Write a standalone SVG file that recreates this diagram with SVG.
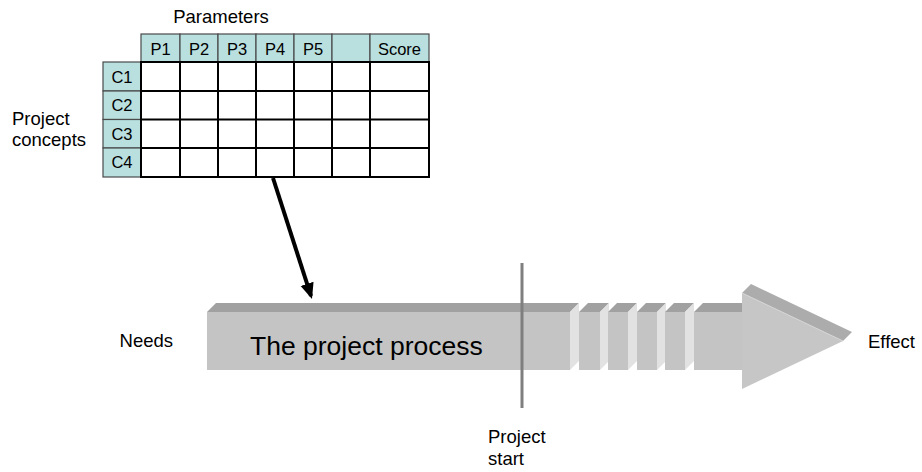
<svg xmlns="http://www.w3.org/2000/svg" width="922" height="472" viewBox="0 0 922 472">
  <style>
    .lbl { font-family: "Liberation Sans", Arial, sans-serif; font-size: 18.5px; fill: #000; }
    .cell { font-family: "Liberation Sans", Arial, sans-serif; font-size: 16.5px; fill: #000; text-anchor: middle; }
    .hdr { fill: #b9dfdf; stroke: #4a4a4a; stroke-width: 1.2; }
    .grid { fill: #fff; stroke: #000; stroke-width: 2; }
    .front { fill: #c4c4c4; }
    .top { fill: #a1a1a1; }
    .side { fill: #e2e2e2; }
  </style>
  <defs>
    <marker id="arrowhead" markerWidth="4" markerHeight="4" refX="3.2" refY="2" orient="auto" markerUnits="strokeWidth">
      <path d="M0,0.3 L4,2 L0,3.7 z" fill="#000"/>
    </marker>
  </defs>
  <rect width="922" height="472" fill="#fff"/>

  <!-- concept / parameter matrix -->
  <g id="matrix">
    <text class="lbl" x="221" y="23" text-anchor="middle">Parameters</text>
    <text class="lbl" x="12" y="125">Project</text>
    <text class="lbl" x="12" y="146">concepts</text>

    <!-- header row -->
    <rect class="hdr" x="141" y="34" width="39" height="28"/>
    <rect class="hdr" x="180" y="34" width="38" height="28"/>
    <rect class="hdr" x="218" y="34" width="38" height="28"/>
    <rect class="hdr" x="256" y="34" width="38" height="28"/>
    <rect class="hdr" x="294" y="34" width="38" height="28"/>
    <rect class="hdr" x="332" y="34" width="38" height="28"/>
    <rect class="hdr" x="370" y="34" width="59" height="28"/>
    <text class="cell" x="160.5" y="54.5">P1</text>
    <text class="cell" x="199" y="54.5">P2</text>
    <text class="cell" x="237" y="54.5">P3</text>
    <text class="cell" x="275" y="54.5">P4</text>
    <text class="cell" x="313" y="54.5">P5</text>
    <text class="cell" x="399.5" y="54.5">Score</text>

    <!-- row labels -->
    <rect class="hdr" x="103" y="62" width="38" height="29"/>
    <rect class="hdr" x="103" y="91" width="38" height="28.5"/>
    <rect class="hdr" x="103" y="119.5" width="38" height="28.5"/>
    <rect class="hdr" x="103" y="148" width="38" height="29"/>
    <text class="cell" x="122" y="82.5">C1</text>
    <text class="cell" x="122" y="111">C2</text>
    <text class="cell" x="122" y="139.5">C3</text>
    <text class="cell" x="122" y="168">C4</text>

    <!-- score grid -->
    <rect class="grid" x="141" y="62" width="288" height="115"/>
    <g stroke="#000" stroke-width="2">
      <line x1="180" y1="62" x2="180" y2="177"/>
      <line x1="218" y1="62" x2="218" y2="177"/>
      <line x1="256" y1="62" x2="256" y2="177"/>
      <line x1="294" y1="62" x2="294" y2="177"/>
      <line x1="332" y1="62" x2="332" y2="177"/>
      <line x1="370" y1="62" x2="370" y2="177"/>
      <line x1="141" y1="91" x2="429" y2="91"/>
      <line x1="141" y1="119.5" x2="429" y2="119.5"/>
      <line x1="141" y1="148" x2="429" y2="148"/>
    </g>
  </g>

  <!-- project process arrow -->
  <g id="process">
    <!-- main block -->
    <polygon class="top" points="207,312 216,303 579,303 570,312"/>
    <rect class="front" x="207" y="312" width="363" height="58"/>
    <polygon class="side" points="570,312 579,303 579,361 570,370"/>
    <!-- slices -->
    <polygon class="top" points="579,312 588,303 609,303 600,312"/>
    <rect class="front" x="579" y="312" width="21" height="58"/>
    <polygon class="side" points="600,312 609,303 609,361 600,370"/>

    <polygon class="top" points="608,312 617,303 637,303 628,312"/>
    <rect class="front" x="608" y="312" width="20" height="58"/>
    <polygon class="side" points="628,312 637,303 637,361 628,370"/>

    <polygon class="top" points="637,312 646,303 666,303 657,312"/>
    <rect class="front" x="637" y="312" width="20" height="58"/>
    <polygon class="side" points="657,312 666,303 666,361 657,370"/>

    <polygon class="top" points="665,312 674,303 694,303 685,312"/>
    <rect class="front" x="665" y="312" width="20" height="58"/>
    <polygon class="side" points="685,312 694,303 694,361 685,370"/>

    <polygon class="top" points="694,312 703,303 751,303 742,312"/>
    <rect class="front" x="694" y="312" width="50" height="58"/>

    <!-- head -->
    <polygon fill="#acacac" points="742,293 751,284 852,332 843,341"/>
    <polygon fill="#c6c6c6" points="742,293 843,341 742,389"/>
    <line x1="742" y1="293" x2="843" y2="341" stroke="#d4d4d4" stroke-width="1"/>

    <text x="250" y="355" font-family="'Liberation Sans', Arial, sans-serif" font-size="26.5" fill="#000">The project process</text>
  </g>

  <g id="needs">
    <text class="lbl" x="173" y="347" text-anchor="end">Needs</text>
  </g>
  <g id="effect">
    <text class="lbl" x="868" y="348">Effect</text>
  </g>

  <g id="project-start">
    <line x1="522" y1="263" x2="522" y2="408" stroke="#7f7f7f" stroke-width="3"/>
    <text class="lbl" x="488" y="443">Project</text>
    <text class="lbl" x="488" y="465">start</text>
  </g>

  <!-- connectors -->
  <g id="connectors">
    <line x1="273" y1="178" x2="311" y2="296" stroke="#000" stroke-width="4" marker-end="url(#arrowhead)"/>
  </g>
</svg>
